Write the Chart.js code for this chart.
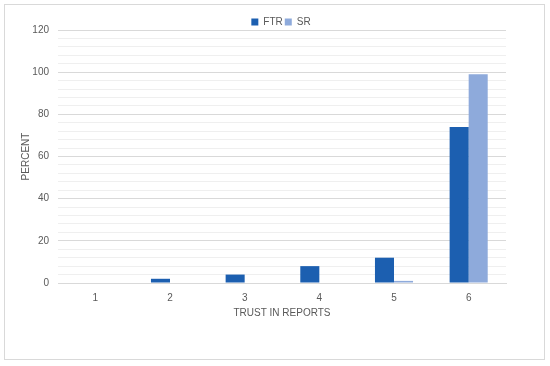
<!DOCTYPE html>
<html><head><meta charset="utf-8">
<script src="https://cdn.jsdelivr.net/npm/chart.js@4/dist/chart.umd.min.js"></script>
<style>
html,body{margin:0;padding:0;background:#fff;}
#frame{position:absolute;left:4px;top:4px;width:541px;height:356px;border:1px solid #d9d9d9;box-sizing:border-box;}
#wrap{position:absolute;left:0;top:0;width:550px;height:366px;}
</style></head>
<body>
<div id="frame"></div>
<div id="wrap"><canvas id="c" width="550" height="366"></canvas></div>
<script>
const categories = ['1','2','3','4','5','6'];
const ftrValues = [0, 2, 4, 8, 12, 74];
const srValues = [0, 0, 0, 0, 1, 99];
const seriesNames = ['FTR','SR'];
const yMax = 120;
const yStep = 4;
const yLabelStep = 20;

const textColor = '#595959';
const font = {family:'"Liberation Sans", Arial, sans-serif', size:10};

new Chart(document.getElementById('c'), {
  type:'bar',
  data:{
    labels:categories,
    datasets:[
      {label:seriesNames[0], data:ftrValues, backgroundColor:'#1c5fb0', categoryPercentage:0.51, barPercentage:1},
      {label:seriesNames[1], data:srValues, backgroundColor:'#8eaadb', categoryPercentage:0.51, barPercentage:1}
    ]
  },
  options:{
    responsive:false,
    animation:false,
    layout:{padding:{left:20,right:8,top:15,bottom:47}},
    plugins:{
      legend:{position:'top',maxHeight:15,labels:{boxWidth:7,boxHeight:7,padding:2,color:textColor,font:font}},
      tooltip:{enabled:false}
    },
    scales:{
      x:{
        grid:{display:false,drawTicks:false},
        border:{color:'#d9d9d9'},
        ticks:{color:textColor,font:font,padding:9},
        title:{display:true,text:'TRUST IN REPORTS',color:textColor,font:font,padding:{top:-6,bottom:0}}
      },
      y:{
        min:0,max:yMax,
        grid:{drawTicks:false,color:(ctx)=> (ctx.tick && ctx.tick.value % yLabelStep === 0) ? '#d9d9d9' : '#efefef'},
        border:{display:false},
        ticks:{stepSize:yStep,autoSkip:false,color:textColor,font:font,padding:9,
          callback:(v)=> v % yLabelStep === 0 ? v : ''},
        title:{display:true,text:'PERCENT',color:textColor,font:font,padding:{top:0,bottom:4}},
        afterFit:(s)=>{s.width=38;}
      },
      yR:{
        position:'right',display:true,
        grid:{display:false,drawTicks:false},
        border:{display:false},
        ticks:{display:false},
        afterFit:(s)=>{s.width=36;}
      }
    }
  }
});
</script>
</body></html>
